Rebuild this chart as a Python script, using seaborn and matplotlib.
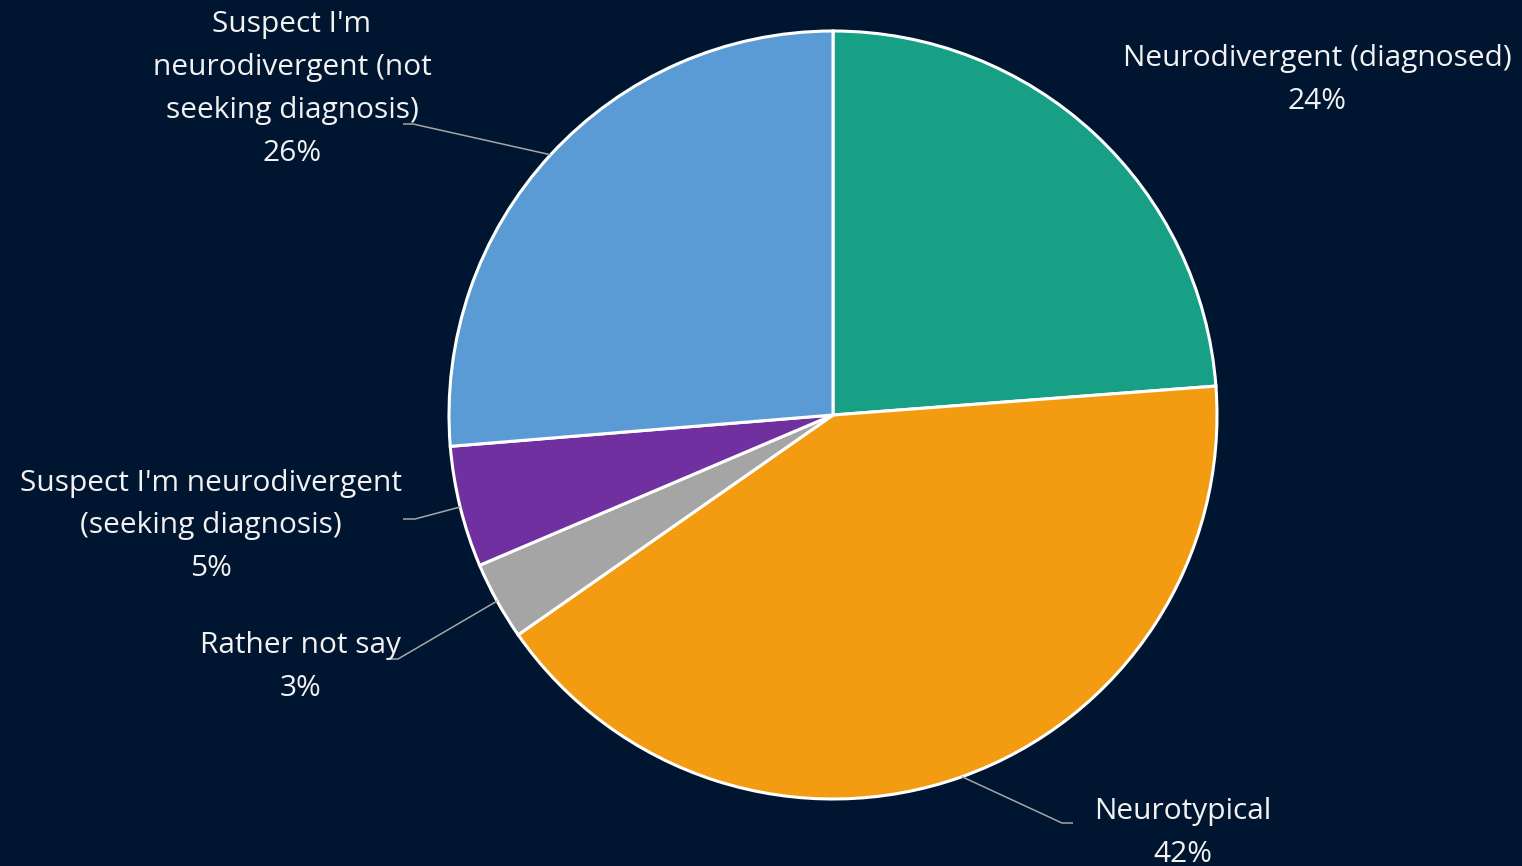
import numpy as np
import seaborn as sns
import matplotlib.pyplot as plt

# Share of respondents, clockwise from 12 o'clock
categories = ['Neurodivergent (diagnosed)', 'Neurotypical', 'Rather not say',
              "Suspect I'm neurodivergent (seeking diagnosis)",
              "Suspect I'm neurodivergent (not seeking diagnosis)"]
shares = [23.8, 41.5, 3.3, 5.1, 26.3]
label_text = ['Neurodivergent (diagnosed)', 'Neurotypical', 'Rather not say',
              "Suspect I'm neurodivergent\n(seeking diagnosis)",
              "Suspect I'm\nneurodivergent (not\nseeking diagnosis)"]
colors = ['#17a086', '#f39c12', '#a5a5a5', '#7030a0', '#5b9bd5']

# label centres in pixels (x from left, y from top) and leader line bends
label_px = [(1317, 80), (1183, 833), (301, 667), (211, 526), (292, 89)]
leader_end_px = [None, (1062, 823), (398, 659), (415, 519), (413, 124)]
leader_tail = [0, 11, -10, -12, -10]

BG = '#001530'
W, H = 1522, 866
CX, CY, R = 833, 415, 384

sns.set_theme(style='white')
plt.rcParams['font.family'] = ['Open Sans', 'DejaVu Sans']

fig = plt.figure(figsize=(W / 100, H / 100), dpi=100, facecolor=BG)
ax = fig.add_axes([0, 0, 1, 1])
ax.set_facecolor(BG)

pal = sns.color_palette(colors)
wedges, _ = ax.pie(shares, colors=pal, startangle=90, counterclock=False,
                   radius=1, wedgeprops=dict(edgecolor='white', linewidth=2.2))

ax.set_xlim(-CX / R, (W - CX) / R)
ax.set_ylim(-(H - CY) / R, CY / R)
ax.set_aspect('auto')
ax.axis('off')


def px2d(x, y):
    return (x - CX) / R, (CY - y) / R


for w, txt, share, pos, end, tail in zip(wedges, label_text, shares, label_px,
                                         leader_end_px, leader_tail):
    x, y = px2d(*pos)
    ax.text(x, y, f'{txt}\n{share:.0f}%', ha='center', va='center',
            color='#f2f2f2', fontsize=21.5, linespacing=1.63)
    if end is not None:
        mid = np.deg2rad((w.theta1 + w.theta2) / 2)
        sx, sy = np.cos(mid), np.sin(mid)
        ex, ey = px2d(*end)
        ax.plot([sx, ex, ex + tail / R], [sy, ey, ey], color='#a6a6a6',
                lw=1.1, solid_capstyle='butt')

fig.savefig('out.png', dpi=100, facecolor=BG)
